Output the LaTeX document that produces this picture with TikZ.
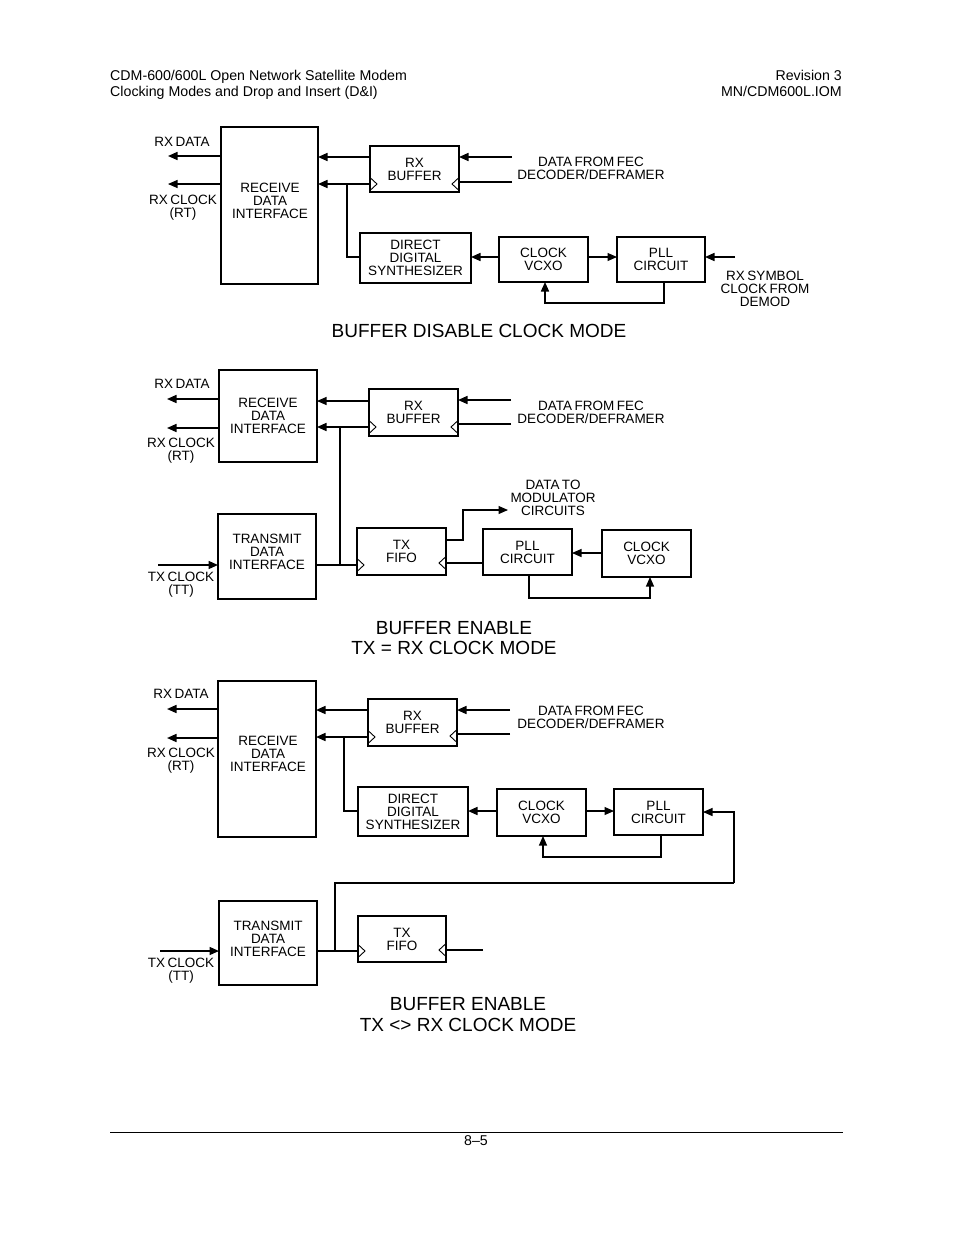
\documentclass[tikz,border=0pt]{standalone}
\usepackage{fontspec}
\setmainfont{Liberation Sans}
\usetikzlibrary{arrows.meta}
\newcommand\lbfnt{\fontsize{13.5}{13}\selectfont\spaceskip=2.5pt plus 1pt minus 0.5pt}
\newcommand\ttlfnt{\fontsize{19}{20.5}\selectfont}
\newcommand\hdfnt{\fontsize{14.2}{16}\selectfont}
\newcommand\clkL[2]{\draw[clk] (#1,#2-6.5) -- ++(7,6.5) -- ++(-7,6.5);}
\newcommand\clkR[2]{\draw[clk] (#1,#2-6.5) -- ++(-7,6.5) -- ++(7,6.5);}
\begin{document}
\begin{tikzpicture}[x=1pt,y=-1pt,
  blk/.style={draw, line width=1.4pt, inner sep=0pt, outer sep=0pt, font=\lbfnt, align=center},
  lbl/.style={font=\lbfnt, align=center, inner sep=0pt},
  ttl/.style={font=\ttlfnt, align=center, inner sep=0pt},
  hd/.style={font=\hdfnt, inner sep=0pt},
  ln/.style={line width=1.6pt},
  thn/.style={line width=1.1pt},
  clk/.style={line width=0.9pt},
  arr/.style={-{Triangle[length=9.5pt,width=8pt]}}]
\useasboundingbox (0,0) rectangle (954,1235);
% header
\node[hd,anchor=base west] (h1) at (110,80) {CDM-600/600L Open Network Satellite Modem};
\node[hd,anchor=base west] (h2) at (110,96) {Clocking Modes and Drop and Insert (D\&I)};
\node[hd,anchor=base east] (h3) at (842,80) {Revision 3};
\node[hd,anchor=base east] (h4) at (842,96) {MN/CDM600L.IOM};
\draw[line width=0.8pt] (110,1132) coordinate (fl) -- (843,1132) coordinate (fr);
\node[hd,anchor=base] (pg) at (476,1145) {8–5};

% ================= TOP: BUFFER DISABLE =================
\node[blk,minimum width=97pt,minimum height=157pt] (rdiA) at (269.5,205.5) {};
\node[lbl] (rdiAt) at (270,201) {RECEIVE\\DATA\\INTERFACE};
\node[blk,minimum width=89pt,minimum height=46pt] (bufA) at (414.5,169) {RX\\BUFFER};
\node[blk,minimum width=111pt,minimum height=50pt] (ddsA) at (415.5,258) {DIRECT\\DIGITAL\\SYNTHESIZER};
\node[blk,minimum width=89pt,minimum height=45pt] (vcxoA) at (543.5,259.5) {CLOCK\\VCXO};
\node[blk,minimum width=88pt,minimum height=45pt] (pllA) at (661,259.5) {PLL\\CIRCUIT};
\coordinate (rxdA) at (168,156);
\coordinate (rxcA) at (168,184);
\draw[ln,arr] (rdiA.west |- 0,156) -- (rxdA);
\draw[thn,arr] (rdiA.west |- 0,184) -- (rxcA);
\node[lbl] (rxdAt) at (182,142) {RX DATA};
\node[lbl] (rxcAt) at (183,207.5) {RX CLOCK\\(RT)};
\draw[ln,arr] (bufA.west |- 0,157) -- (rdiA.east |- 0,157);
\draw[ln,arr] (bufA.west |- 0,184) -- (rdiA.east |- 0,184);
\coordinate (brA) at (347,184);
\draw[thn] (brA) |- (ddsA.west |- 0,257);
\clkL{370}{184}
\clkR{459}{184}
\coordinate (dinA) at (512,157);
\coordinate (cinA) at (512,182);
\draw[ln,arr] (dinA) -- (bufA.east |- 0,157);
\draw[thn] (cinA) -- (bufA.east |- 0,182);
\node[lbl] (finA) at (591,168) {DATA FROM FEC\\DECODER/DEFRAMER};
\draw[ln,arr] (vcxoA.west |- 0,257) -- (ddsA.east |- 0,257);
\draw[thn,arr] (vcxoA.east |- 0,257) -- (pllA.west |- 0,257);
\coordinate (symA) at (735,257);
\draw[ln,arr] (symA) -- (pllA.east |- 0,257);
\node[lbl] (symAt) at (765,289) {RX SYMBOL\\CLOCK FROM\\DEMOD};
\draw[ln,arr] (pllA.south -| 664,0) -- (664,303) -| (vcxoA.south -| 545,0);
\node[ttl] (tA) at (479,331) {BUFFER DISABLE CLOCK MODE};

% ================= MIDDLE: TX = RX =================
\node[blk,minimum width=98pt,minimum height=92pt] (rdiB) at (268,416) {RECEIVE\\DATA\\INTERFACE};
\node[blk,minimum width=89pt,minimum height=47pt] (bufB) at (413.5,412.5) {RX\\BUFFER};
\node[blk,minimum width=98pt,minimum height=85pt] (tdiB) at (267,556.5) {};
\node[lbl] (tdiBt) at (267,552) {TRANSMIT\\DATA\\INTERFACE};
\node[blk,minimum width=89pt,minimum height=47pt] (fifoB) at (401.5,551.5) {TX\\FIFO};
\node[blk,minimum width=89pt,minimum height=46pt] (pllB) at (527.5,552) {PLL\\CIRCUIT};
\node[blk,minimum width=89pt,minimum height=47pt] (vcxoB) at (646.5,553.5) {CLOCK\\VCXO};
\coordinate (rxdB) at (167,399);
\coordinate (rxcB) at (167,428);
\draw[ln,arr] (rdiB.west |- 0,399) -- (rxdB);
\draw[ln,arr] (rdiB.west |- 0,428) -- (rxcB);
\node[lbl] (rxdBt) at (182,384) {RX DATA};
\node[lbl] (rxcBt) at (181,450.5) {RX CLOCK\\(RT)};
\draw[thn,arr] (bufB.west |- 0,401) -- (rdiB.east |- 0,401);
\draw[ln,arr] (bufB.west |- 0,427) -- (rdiB.east |- 0,427);
\clkL{369}{427}
\clkR{458}{427}
\coordinate (dinB) at (511,400);
\coordinate (cinB) at (511,424);
\draw[ln,arr] (dinB) -- (bufB.east |- 0,400);
\draw[ln] (cinB) -- (bufB.east |- 0,424);
\node[lbl] (finB) at (591,412) {DATA FROM FEC\\DECODER/DEFRAMER};
\coordinate (brB) at (340,427);
\draw[ln] (brB) -- (340,565);
\coordinate (txcB) at (158,565);
\draw[ln,arr] (txcB) -- (tdiB.west |- 0,565);
\node[lbl] (txcBt) at (181,584.5) {TX CLOCK\\(TT)};
\draw[ln] (tdiB.east |- 0,565) -- (fifoB.west |- 0,565);
\clkL{357}{565}
\clkR{446}{563}
\coordinate (modB) at (508,510);
\draw[thn,arr] (fifoB.east |- 0,540) -| (463,510) -- (modB);
\node[lbl] (modBt) at (553,498) {DATA TO\\MODULATOR\\CIRCUITS};
\draw[thn] (pllB.west |- 0,563) -- (fifoB.east |- 0,563);
\draw[thn,arr] (vcxoB.west |- 0,553) -- (pllB.east |- 0,553);
\draw[thn,arr] (pllB.south -| 529,0) -- (529,598) -| (vcxoB.south -| 650,0);
\node[ttl] (tB) at (454,638) {BUFFER ENABLE\\TX = RX CLOCK MODE};

% ================= BOTTOM: TX <> RX =================
\node[blk,minimum width=98pt,minimum height=156pt] (rdiC) at (267,759) {};
\node[lbl] (rdiCt) at (268,754) {RECEIVE\\DATA\\INTERFACE};
\node[blk,minimum width=89pt,minimum height=47pt] (bufC) at (412.5,722.5) {RX\\BUFFER};
\node[blk,minimum width=110pt,minimum height=49pt] (ddsC) at (413,811.5) {DIRECT\\DIGITAL\\SYNTHESIZER};
\node[blk,minimum width=89pt,minimum height=47pt] (vcxoC) at (541.5,812.5) {CLOCK\\VCXO};
\node[blk,minimum width=89pt,minimum height=46pt] (pllC) at (658.5,812) {PLL\\CIRCUIT};
\node[blk,minimum width=98pt,minimum height=84pt] (tdiC) at (268,943) {};
\node[lbl] (tdiCt) at (268,939) {TRANSMIT\\DATA\\INTERFACE};
\node[blk,minimum width=88pt,minimum height=46pt] (fifoC) at (402,939) {TX\\FIFO};
\coordinate (rxdC) at (167,709);
\coordinate (rxcC) at (167,738);
\draw[ln,arr] (rdiC.west |- 0,709) -- (rxdC);
\draw[ln,arr] (rdiC.west |- 0,738) -- (rxcC);
\node[lbl] (rxdCt) at (181,694) {RX DATA};
\node[lbl] (rxcCt) at (181,760.5) {RX CLOCK\\(RT)};
\draw[ln,arr] (bufC.west |- 0,710) -- (rdiC.east |- 0,710);
\draw[ln,arr] (bufC.west |- 0,737) -- (rdiC.east |- 0,737);
\clkL{368}{737}
\clkR{457}{736}
\coordinate (dinC) at (510,710);
\coordinate (cinC) at (510,734);
\draw[ln,arr] (dinC) -- (bufC.east |- 0,710);
\draw[ln] (cinC) -- (bufC.east |- 0,734);
\node[lbl] (finC) at (591,717) {DATA FROM FEC\\DECODER/DEFRAMER};
\coordinate (brC) at (344,737);
\draw[ln] (brC) |- (ddsC.west |- 0,811);
\draw[ln,arr] (vcxoC.west |- 0,811) -- (ddsC.east |- 0,811);
\draw[thn,arr] (vcxoC.east |- 0,811) -- (pllC.west |- 0,811);
\draw[thn,arr] (pllC.south -| 661,0) -- (661,857) -| (vcxoC.south -| 543,0);
\coordinate (lpC) at (734,883);
\draw[thn,arr] (lpC) |- (pllC.east |- 0,812);
\draw[thn] (lpC) -- (335,883) -- (335,951);
\coordinate (txcC) at (160,951);
\draw[ln,arr] (txcC) -- (tdiC.west |- 0,951);
\node[lbl] (txcCt) at (181,970.5) {TX CLOCK\\(TT)};
\draw[thn] (tdiC.east |- 0,951) -- (fifoC.west |- 0,951);
\clkL{358}{951}
\clkR{446}{950}
\coordinate (outC) at (483,950);
\draw[ln] (outC) -- (fifoC.east |- 0,950);
\node[ttl] (tC) at (468,1014.5) {BUFFER ENABLE\\TX <> RX CLOCK MODE};
\end{tikzpicture}
\end{document}
